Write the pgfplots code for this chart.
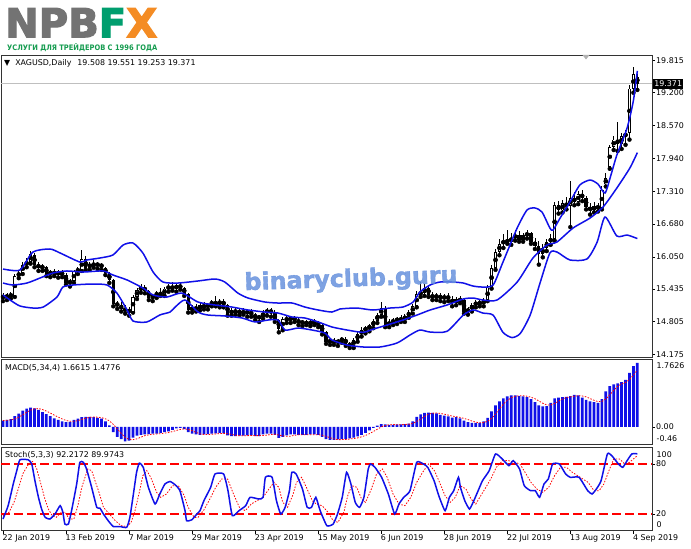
\documentclass[border=0pt]{standalone}
\usepackage{graphicx}
\usepackage{pgfplots}
\pgfplotsset{compat=1.18}
\usepackage{pgfplotstable}
\usepackage{fontspec}
\setmainfont{DejaVu Sans}
\newfontfamily\mt{DejaVu Sans}
\newfontfamily\heavy{DejaVu Sans}[BoldFeatures={FakeBold=3}]
\newfontfamily\semiheavy{DejaVu Sans}[BoldFeatures={FakeBold=1.5}]
\newcommand\mtf{\mt\fontsize{7.9}{9.5}\selectfont}
\definecolor{mtblue}{RGB}{16,16,232}
\definecolor{npbgray}{RGB}{115,115,115}
\definecolor{npbgreen}{RGB}{0,158,110}
\definecolor{npborange}{RGB}{244,140,36}
\definecolor{subgreen}{RGB}{22,156,80}
\definecolor{wmblue}{RGB}{104,146,222}

% daily candles: bar index, open, high, low, close
\pgfplotstableread{
i o h l c
0 15.30 15.36 15.20 15.26
1 15.26 15.35 15.22 15.32
2 15.32 15.38 15.25 15.30
3 15.30 15.72 15.28 15.68
4 15.68 15.80 15.64 15.74
5 15.74 15.95 15.72 15.90
6 15.90 16.02 15.85 15.95
7 15.96 16.17 15.92 16.10
8 16.08 16.12 15.85 15.90
9 15.90 15.95 15.78 15.84
10 15.84 15.92 15.78 15.86
11 15.86 15.88 15.68 15.72
12 15.72 15.80 15.66 15.76
13 15.76 15.82 15.68 15.72
14 15.72 15.80 15.65 15.75
15 15.75 15.80 15.66 15.70
16 15.70 15.74 15.52 15.55
17 15.55 15.62 15.48 15.58
18 15.58 15.80 15.55 15.78
19 15.78 15.85 15.72 15.80
20 15.80 16.18 15.78 16.00
21 16.00 16.06 15.80 15.84
22 15.84 15.96 15.80 15.92
23 15.92 15.98 15.84 15.88
24 15.88 15.96 15.82 15.92
25 15.92 15.94 15.80 15.84
26 15.84 15.86 15.70 15.73
27 15.73 15.76 15.55 15.60
28 15.60 15.62 15.10 15.15
29 15.15 15.20 15.05 15.12
30 15.12 15.18 15.00 15.05
31 15.05 15.12 14.96 15.02
32 15.02 15.08 14.92 15.00
33 15.00 15.32 14.98 15.28
34 15.28 15.46 15.24 15.42
35 15.42 15.52 15.36 15.46
36 15.46 15.50 15.35 15.40
37 15.40 15.42 15.22 15.26
38 15.26 15.34 15.20 15.30
39 15.30 15.40 15.26 15.36
40 15.36 15.46 15.30 15.32
41 15.32 15.48 15.30 15.44
42 15.44 15.52 15.38 15.48
43 15.48 15.56 15.40 15.44
44 15.44 15.52 15.38 15.50
45 15.50 15.55 15.42 15.46
46 15.46 15.48 15.30 15.34
47 15.34 15.36 14.98 15.02
48 15.02 15.12 14.98 15.08
49 15.08 15.14 15.00 15.04
50 15.04 15.16 15.02 15.12
51 15.12 15.18 15.04 15.08
52 15.08 15.16 15.04 15.14
53 15.14 15.22 15.10 15.18
54 15.18 15.30 15.10 15.14
55 15.14 15.24 15.08 15.20
56 15.20 15.24 15.08 15.12
57 15.12 15.14 14.92 14.96
58 14.96 15.06 14.92 15.02
59 15.02 15.06 14.94 14.98
60 14.98 15.04 14.92 15.00
61 15.00 15.06 14.94 14.97
62 14.97 15.04 14.90 15.00
63 15.00 15.04 14.90 14.94
64 14.94 14.98 14.84 14.88
65 14.88 14.94 14.80 14.90
66 14.90 15.02 14.86 14.98
67 14.98 15.06 14.92 15.02
68 15.02 15.06 14.90 14.98
69 14.98 15.02 14.80 14.84
70 14.84 14.86 14.60 14.66
71 14.66 14.90 14.64 14.86
72 14.86 14.92 14.78 14.84
73 14.84 14.90 14.78 14.88
74 14.88 14.92 14.80 14.84
75 14.84 14.88 14.74 14.78
76 14.78 14.84 14.72 14.80
77 14.80 14.84 14.74 14.76
78 14.76 14.84 14.72 14.80
79 14.80 14.86 14.74 14.78
80 14.78 14.82 14.70 14.74
81 14.74 14.76 14.56 14.60
82 14.60 14.62 14.38 14.42
83 14.42 14.48 14.36 14.44
84 14.44 14.50 14.36 14.40
85 14.40 14.48 14.34 14.44
86 14.44 14.52 14.40 14.48
87 14.48 14.52 14.34 14.38
88 14.38 14.42 14.30 14.34
89 14.34 14.50 14.30 14.46
90 14.46 14.60 14.42 14.56
91 14.56 14.70 14.52 14.64
92 14.64 14.72 14.58 14.68
93 14.68 14.76 14.62 14.72
94 14.72 14.86 14.68 14.82
95 14.82 14.98 14.78 14.94
96 14.94 15.18 14.90 15.06
97 15.06 15.10 14.70 14.74
98 14.74 14.86 14.70 14.80
99 14.80 14.88 14.74 14.82
100 14.82 14.90 14.76 14.86
101 14.86 14.94 14.80 14.84
102 14.84 14.96 14.80 14.92
103 14.92 15.02 14.88 14.98
104 14.98 15.14 14.96 15.10
105 15.10 15.40 15.08 15.34
106 15.34 15.56 15.28 15.36
107 15.36 15.52 15.30 15.46
108 15.46 15.50 15.28 15.32
109 15.32 15.38 15.22 15.26
110 15.26 15.36 15.22 15.32
111 15.32 15.36 15.20 15.24
112 15.24 15.34 15.18 15.30
113 15.30 15.36 15.20 15.24
114 15.24 15.30 15.10 15.16
115 15.16 15.28 15.12 15.24
116 15.24 15.30 15.16 15.20
117 15.22 15.24 14.96 15.00
118 15.00 15.08 14.94 15.04
119 15.04 15.16 15.00 15.12
120 15.12 15.22 15.08 15.18
121 15.18 15.24 15.10 15.14
122 15.14 15.26 15.10 15.22
123 15.22 15.50 15.20 15.46
124 15.46 15.90 15.44 15.84
125 15.84 16.20 15.80 16.14
126 16.14 16.40 16.08 16.30
127 16.30 16.48 16.22 16.36
128 16.36 16.56 16.30 16.34
129 16.34 16.50 16.28 16.42
130 16.42 16.56 16.36 16.46
131 16.46 16.54 16.34 16.38
132 16.38 16.50 16.34 16.46
133 16.46 16.56 16.40 16.50
134 16.50 16.52 16.30 16.34
135 16.34 16.42 16.20 16.26
136 16.26 16.36 15.90 16.10
137 16.10 16.30 16.04 16.22
138 16.22 16.40 16.16 16.34
139 16.34 16.48 16.28 16.40
140 16.40 17.10 16.36 17.04
141 17.04 17.12 16.88 16.94
142 16.94 17.14 16.90 17.08
143 17.08 17.20 16.96 17.02
144 17.02 17.50 16.62 17.18
145 17.18 17.30 17.04 17.10
146 17.10 17.32 17.06 17.26
147 17.26 17.34 17.12 17.18
148 17.18 17.22 16.96 17.00
149 17.00 17.08 16.86 16.94
150 16.94 17.10 16.90 17.02
151 17.02 17.08 16.92 16.98
152 16.98 17.40 16.96 17.34
153 17.44 17.66 17.40 17.56
154 17.78 18.20 17.74 18.16
155 18.16 18.36 18.10 18.30
156 18.30 18.64 18.08 18.22
157 18.22 18.42 18.12 18.36
158 18.36 18.48 18.20 18.42
159 18.42 19.34 18.30 19.28
160 19.28 19.70 19.20 19.55
161 19.508 19.551 19.253 19.371
}\candles

% MACD(5,34,4): histogram m, signal s
\pgfplotstableread{
i m s
0 .16 .16
1 .18 .17
2 .20 .18
3 .28 .205
4 .34 .25
5 .42 .31
6 .47 .378
7 .50 .433
8 .48 .468
9 .44 .473
10 .38 .45
11 .33 .408
12 .28 .358
13 .22 .303
14 .18 .253
15 .14 .205
16 .12 .165
17 .13 .143
18 .18 .143
19 .21 .16
20 .25 .193
21 .26 .225
22 .26 .245
23 .25 .255
24 .23 .25
25 .21 .238
26 .14 .208
27 .04 .155
28 -.14 .063
29 -.26 -.055
30 -.32 -.17
31 -.38 -.275
32 -.36 -.33
33 -.28 -.335
34 -.23 -.313
35 -.21 -.27
36 -.20 -.23
37 -.19 -.208
38 -.18 -.195
39 -.18 -.188
40 -.16 -.178
41 -.14 -.165
42 -.12 -.15
43 -.08 -.125
44 -.04 -.095
45 -.03 -.068
46 -.06 -.053
47 -.14 -.068
48 -.18 -.103
49 -.20 -.145
50 -.21 -.183
51 -.20 -.198
52 -.19 -.20
53 -.18 -.195
54 -.17 -.185
55 -.16 -.175
56 -.17 -.17
57 -.22 -.18
58 -.24 -.198
59 -.24 -.218
60 -.23 -.233
61 -.23 -.235
62 -.22 -.23
63 -.22 -.225
64 -.24 -.228
65 -.24 -.23
66 -.20 -.225
67 -.18 -.215
68 -.18 -.20
69 -.21 -.193
70 -.29 -.215
71 -.26 -.235
72 -.22 -.245
73 -.20 -.243
74 -.20 -.22
75 -.21 -.208
76 -.21 -.205
77 -.21 -.208
78 -.20 -.208
79 -.20 -.205
80 -.21 -.205
81 -.26 -.218
82 -.32 -.248
83 -.34 -.283
84 -.34 -.315
85 -.33 -.333
86 -.32 -.333
87 -.32 -.328
88 -.30 -.318
89 -.28 -.305
90 -.25 -.288
91 -.21 -.26
92 -.16 -.225
93 -.09 -.178
94 -.03 -.123
95 .03 -.063
96 .07 -.005
97 .06 .033
98 .05 .053
99 .05 .058
100 .06 .055
101 .06 .055
102 .07 .06
103 .08 .068
104 .14 .088
105 .26 .138
106 .32 .20
107 .36 .27
108 .37 .328
109 .36 .353
110 .35 .36
111 .31 .348
112 .29 .328
113 .27 .305
114 .24 .278
115 .25 .263
116 .22 .245
117 .16 .218
118 .12 .188
119 .10 .15
120 .10 .12
121 .10 .105
122 .14 .11
123 .23 .143
124 .40 .218
125 .56 .333
126 .66 .463
127 .74 .59
128 .79 .688
129 .82 .753
130 .82 .793
131 .80 .808
132 .79 .808
133 .77 .795
134 .72 .77
135 .64 .73
136 .56 .673
137 .53 .613
138 .54 .568
139 .62 .563
140 .74 .608
141 .76 .665
142 .77 .723
143 .78 .763
144 .80 .778
145 .83 .795
146 .82 .808
147 .76 .803
148 .70 .778
149 .66 .735
150 .64 .69
151 .62 .655
152 .72 .66
153 .92 .725
154 1.06 .83
155 1.10 .95
156 1.13 1.053
157 1.16 1.113
158 1.22 1.153
159 1.40 1.228
160 1.58 1.34
161 1.6615 1.4776
}\macd

\pgfplotsset{
  mt/.style={
    scale only axis, width=651pt,
    xmin=-0.508, xmax=164.72,
    axis line style={draw=black!80, line width=0.6pt},
    tick align=outside, major tick length=3pt,
    tick style={black, line width=0.5pt},
    ytick pos=right, yticklabel pos=right,
    yticklabel style={font=\mtf, anchor=west, inner sep=1pt},
    xtick=\empty,
    clip mode=individual,
  },
  band/.style={mtblue, line width=1.5pt, smooth, tension=0.4},
}

\begin{document}
\begin{tikzpicture}[x=1pt,y=1pt]
\path[use as bounding box, fill=white] (0,0) rectangle (691,549);

% logo
\node[anchor=north west, inner sep=0] at (5,541)
  {\resizebox{152pt}{29pt}{\heavy\bfseries\color{npbgray}NPB\color{npbgreen}F\color{npborange}X}};
\node[anchor=north west, inner sep=0] at (7,506)
  {\resizebox{150pt}{7pt}{\mt\bfseries\color{subgreen}УСЛУГИ ДЛЯ ТРЕЙДЕРОВ С 1996 ГОДА}};

% ---- price panel
\begin{axis}[mt, at={(1pt,192pt)}, anchor=south west, height=302pt,
  ymin=14.127, ymax=19.924,
  ytick={14.175,14.805,15.435,16.050,16.680,17.310,17.940,18.570,19.200,19.815},
  yticklabels={14.175,14.805,15.435,16.050,16.680,17.310,17.940,18.570,19.200,19.815}]
  \addplot[black!25, line width=0.6pt] coordinates {(-0.508,19.371) (164.72,19.371)};
  % wicks
  \addplot[only marks, mark=none, error bars/.cd, y dir=plus, y explicit, error mark=none,
    error bar style={black, line width=0.8pt}]
    table[x=i, y=l, y error plus expr=\thisrow{h}-\thisrow{l}] {\candles};
  % bodies: black for all, white inside rising candles
  \addplot[only marks, mark=none, error bars/.cd, y dir=both, y explicit, error mark=none,
    error bar style={black, line width=3.3pt}]
    table[x=i, y expr=(\thisrow{o}+\thisrow{c})/2,
      y error expr={max(abs(\thisrow{c}-\thisrow{o})/2,0.012)}] {\candles};
  \addplot[only marks, mark=none, error bars/.cd, y dir=both, y explicit, error mark=none,
    error bar style={white, line width=1.7pt}]
    table[x=i, y expr=(\thisrow{o}+\thisrow{c})/2,
      y error expr={max((\thisrow{c}-\thisrow{o})/2-0.017,0)}] {\candles};
  % Bollinger bands
  \addplot[band] coordinates {(0,15.816) (4.3,15.797) (7.6,16.142) (11.9,16.200) (14.5,16.123)
    (19.5,15.950) (21.3,15.989) (24.6,16.027) (27.9,16.085) (30.5,16.277) (33,16.315)
    (35.5,16.123) (38.1,15.758) (40.6,15.566) (44.4,15.547) (49.5,15.586) (53.8,15.624)
    (56.3,15.566) (59.6,15.355) (62.2,15.259) (66.5,15.182) (69.8,15.163) (73.4,15.163)
    (76.6,15.086) (80,15.029) (83.5,14.990) (85.5,15.048) (89.8,15.067) (93.9,15.029)
    (98.2,15.067) (101.5,15.086) (104.1,15.182) (105.8,15.374) (108.4,15.509) (110.9,15.566)
    (114.2,15.566) (116.8,15.547) (119.3,15.489) (121.8,15.470) (124.4,15.509) (126.9,15.950)
    (130.5,16.603) (133,16.948) (135,16.987) (136.8,16.910) (138.8,16.603) (139.6,16.564)
    (141.4,16.795) (143.9,17.102) (146.4,17.428) (149,17.524) (151,17.447) (152.8,17.275)
    (154.3,17.620) (155.8,18.004) (158.4,18.522) (160,19.05) (161,19.62)};
  \addplot[band] coordinates {(0,15.547) (2.5,15.509) (6.1,15.547) (9.4,15.643) (12.7,15.739)
    (16.2,15.778) (20.3,15.758) (25.4,15.778) (27.9,15.701) (31.5,15.605) (35.5,15.451)
    (38.1,15.317) (41.6,15.278) (45.4,15.355) (49.5,15.182) (53.8,15.125) (58.1,15.086)
    (62.2,15.029) (66.5,14.990) (69.8,14.971) (73.4,14.894) (76.6,14.875) (80,14.799)
    (83.5,14.703) (87.3,14.645) (91.4,14.60) (93.9,14.66) (97.5,14.741) (101.5,14.837)
    (105.1,14.933) (108.4,15.029) (112.7,15.125) (116.8,15.240) (119.3,15.259) (121.8,15.221)
    (125.4,15.221) (130.5,15.566) (134.5,16.027) (138.1,16.277) (140.6,16.334) (144.7,16.603)
    (149,16.795) (152.3,17.006) (155.8,17.371) (159.1,17.754) (161,18.05)};
  \addplot[band] coordinates {(0,15.317) (1.8,15.221) (4.3,15.106) (7.6,15.067) (10.2,15.086)
    (13.7,15.278) (15.2,15.470) (17.8,15.509) (22.8,15.528) (26.4,15.509) (28.9,15.355)
    (31.5,15.029) (33,14.818) (36.5,14.799) (39.8,14.933) (42.4,14.990) (43.7,15.086)
    (46.2,15.221) (49.5,14.990) (52,14.933) (56.3,14.914) (60.7,14.875) (64,14.799)
    (67.3,14.837) (69.8,14.837) (71.6,14.645) (74.9,14.683) (78.4,14.645) (81.7,14.587)
    (83.5,14.453) (87.3,14.357) (91.4,14.319) (95.7,14.319) (100,14.395) (103.3,14.549)
    (105.8,14.645) (108.4,14.606) (112.7,14.62) (116.8,14.93) (119.3,15.03) (121.8,14.97)
    (124.4,14.93) (126.9,14.60) (129.2,14.50) (131.3,14.58) (133.8,14.933) (136.3,15.547)
    (138.8,16.123) (140.6,16.142) (143.9,15.989) (148.2,16.008) (150.8,16.334) (152.8,16.814)
    (155.8,16.449) (158.4,16.468) (161,16.40)};
\end{axis}

% ---- MACD panel
\begin{axis}[mt, at={(1pt,104.5pt)}, anchor=south west, height=85.5pt,
  ymin=-0.46, ymax=1.7626, ytick={0}, yticklabels={0.00}]
  \addplot[ybar, bar width=2.7pt, fill=mtblue, draw=none] table[x=i, y=m] {\macd};
  \addplot[red, line width=0.8pt, dash pattern=on 1.5pt off 1.5pt] table[x=i, y=s] {\macd};
\end{axis}

% ---- Stochastic panel
\begin{axis}[mt, at={(1pt,18.3pt)}, anchor=south west, height=83.4pt,
  ymin=0, ymax=100, ytick={20,80}, yticklabels={20,80},
  xtick={0,16,...,160}, xtick pos=bottom,
  xticklabels={22 Jan 2019,13 Feb 2019,7 Mar 2019,29 Mar 2019,23 Apr 2019,15 May 2019,
    6 Jun 2019,28 Jun 2019,22 Jul 2019,13 Aug 2019,4 Sep 2019},
  xticklabel style={font=\mtf, anchor=north west, inner sep=1pt, xshift=-1.5pt}]
  \addplot[red, line width=1.1pt, dash pattern=on 9pt off 4pt] coordinates {(-0.508,80) (164.72,80)};
  \addplot[red, line width=1.1pt, dash pattern=on 9pt off 4pt] coordinates {(-0.508,20) (164.72,20)};
  \addplot[red, line width=0.8pt, dash pattern=on 1.5pt off 1.5pt] coordinates {
    (0,18) (1.5,22) (2.8,34) (4,52) (5,68) (6.5,80) (7.5,83) (8.5,75) (9.5,58) (10.5,40)
    (11.5,26) (12.5,18) (13.5,16) (14.8,22) (15.8,22) (16.8,14) (18,14) (19,30) (20,52)
    (21.5,74) (22.5,72) (23.5,58) (24.5,44) (25.5,28) (27,20) (28.5,12) (30,6) (31.5,5)
    (32.5,10) (33.5,24) (34.5,44) (35.5,66) (36.5,72) (37.5,64) (39,46) (40,40) (41.5,44)
    (43,54) (44.5,54) (46,42) (47,28) (48.5,16) (49.5,16) (51,25) (52.5,38) (54,52)
    (55.5,62) (57,62) (58.5,44) (60,28) (61.5,24) (63,32) (64.5,36) (66,40) (67.5,50)
    (68.8,58) (70,52) (71,34) (72.2,28) (73.5,42) (74.5,58) (75.8,64) (77,52) (78.5,36)
    (79.5,32) (81,30) (82.5,22) (83.8,12) (85,10) (86.5,22) (87.5,42) (88.5,54) (89.8,52)
    (91,38) (92,34) (93.5,50) (94.8,68) (96.3,74) (97.5,64) (99,44) (100.5,32) (102,30)
    (103.5,40) (105,58) (106.5,70) (108,80) (109.5,72) (110.8,58) (112.2,42) (113.5,34)
    (114.8,40) (116,54) (117.5,50) (118.8,38) (120,32) (121,40) (122.3,50) (123.8,62)
    (125.2,76) (126.8,84) (128.3,84) (129.8,82) (131.2,80) (132.5,70) (134,58) (135.5,50)
    (137,46) (138.5,52) (140,66) (141.5,76) (143,76) (144.5,70) (146.5,64) (148.5,58)
    (150,48) (151.3,48) (152.5,56) (153.8,72) (155,86) (156.5,86) (157.8,80) (159,82)
    (161,89.97)};
  \addplot[mtblue, line width=1.5pt, smooth, tension=0.3] coordinates {
    (0,14) (1.3,30) (2.6,56) (3.5,72) (4.3,85) (6.4,85) (7.3,80) (8.1,60) (9,40) (9.8,26)
    (10.7,16) (11.9,14) (13.2,20) (14.5,30) (15.2,22) (15.7,8) (16.6,8) (17.4,24) (18.7,56)
    (19.5,82) (20.4,82) (21.2,74) (22.5,52) (23.8,28) (24.6,27) (25.5,20) (26.7,12) (28,5)
    (29.7,5) (31.4,4) (32.2,16) (33.1,44) (33.9,70) (34.6,81) (35.6,76) (36.9,52) (38.6,32)
    (39.8,44) (41.1,56) (42.4,59) (43.7,55) (44.9,48) (46.2,24) (46.6,12) (47.9,13) (49.2,20)
    (50,24) (51,36) (52.7,52) (53.8,68) (56,68) (57.1,48) (58.2,18) (59.9,24) (61.6,30)
    (62.7,40) (64.9,38) (66,40) (66.6,64) (68.3,64) (69.4,36) (70.5,20) (71.6,28) (72.7,48)
    (73.3,70) (74.4,68) (76,50) (77.2,28) (78.3,28) (79.4,40) (80.5,24) (82.2,6) (83.8,8)
    (84.9,20) (86.1,40) (87.2,70) (88.3,56) (89.4,34) (90.5,28) (91.6,40) (92.7,74) (93.3,80)
    (94.4,76) (96.1,64) (97.8,44) (99.4,20) (100.5,32) (101.7,40) (103.3,48) (105,82)
    (106.7,80) (107.8,76) (109.4,60) (110.6,42) (112.2,24) (113.3,40) (114.4,48) (115.6,64)
    (116.1,52) (117.2,36) (118.4,26) (119.5,36) (120.6,48) (121.7,60) (123.4,72) (125,92)
    (126.7,86) (128.4,78) (129.5,84) (131.1,74) (132.3,54) (133.9,48) (135.1,48) (136.2,40)
    (137.3,56) (138.4,62) (139.5,80) (141.2,80) (142.8,68) (144,64) (146.2,64) (148.4,48)
    (149.5,44) (150.6,50) (151.8,60) (153.4,92) (154.5,90) (156.2,80) (157.3,76) (158.4,84)
    (159.6,92) (161,92.2)};
\end{axis}

% watermark
\node[rotate=2, text=wmblue, text opacity=0.85, inner sep=0] at (351,269)
  {\resizebox{213pt}{!}{\semiheavy\bfseries binaryclub.guru}};

% panel captions and clamped scale labels
\node[anchor=west, inner sep=0] at (4,486) {\mtf ▼\hspace{5pt}XAGUSD,Daily\hspace{6pt}19.508 19.551 19.253 19.371};
\node[anchor=west, inner sep=0] at (5,181) {\mtf MACD(5,34,4) 1.6615 1.4776};
\node[anchor=west, inner sep=0] at (5,94) {\mtf Stoch(5,3,3) 92.2172 89.9743};
\node[anchor=west, inner sep=0.5pt] at (656,183.3) {\mtf 1.7626};
\node[anchor=west, inner sep=0.5pt] at (656,110.7) {\mtf -0.46};
\node[anchor=west, inner sep=0.5pt] at (656,94.7) {\mtf 100};
\node[anchor=west, inner sep=0.5pt] at (656,24) {\mtf 0};
\node[anchor=west, fill=black, text=white, inner sep=1.2pt, minimum height=10.5pt] at (653,465.2) {\mtf 19.371};
\fill[black!30] (582.5,494) -- (589.5,494) -- (586,489.5) -- cycle;
\end{tikzpicture}
\end{document}
